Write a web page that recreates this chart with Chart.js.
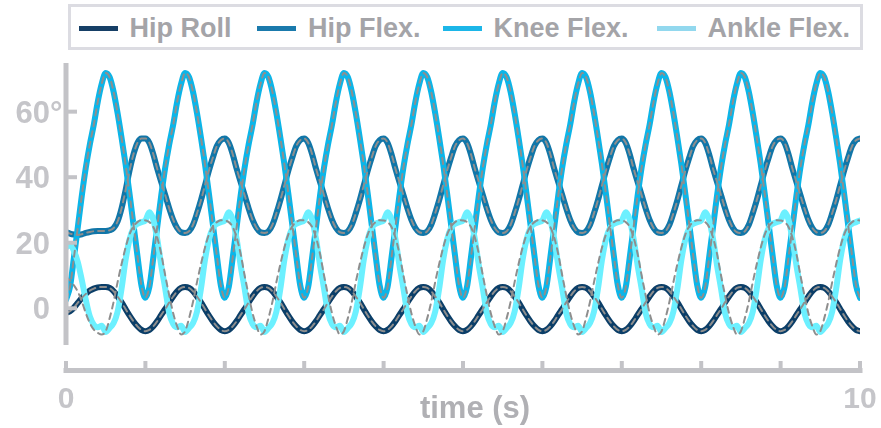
<!DOCTYPE html>
<html>
<head>
<meta charset="utf-8">
<title>Joint angles</title>
<script src="https://cdn.jsdelivr.net/npm/chart.js@4.4.1/dist/chart.umd.min.js"></script>
<style>
  html, body { margin: 0; padding: 0; background: #fff; }
  #wrap {
    position: relative; width: 881px; height: 428px; overflow: hidden;
    font-family: "Liberation Sans", Arial, Helvetica, sans-serif;
  }
  #chart { position: absolute; left: 0; top: 0; }
  #legend {
    position: absolute; left: 68px; top: 4px; width: 795px; height: 46px;
    box-sizing: border-box; border: 3.5px solid #dcdce2; background: #fff;
  }
  .item { position: absolute; top: 1.5px; height: 39px; display: flex; align-items: center; white-space: nowrap; }
  .swatch { display: inline-block; width: 39px; height: 5px; margin-right: 12px; }
  .label { font-weight: bold; font-size: 27px; line-height: 27px; color: #a4a4a8; }
</style>
</head>
<body>
<div id="wrap">
  <canvas id="chart" width="881" height="428"></canvas>
  <div id="legend"></div>
</div>
<script>
// --- data ---
const sampleStep = 0.05;   // s between samples
const duration = 10;       // s
const xTicks = [0, 1, 2, 3, 4, 5, 6, 7, 8, 9, 10];
const xTickLabels = ['0', '', '', '', '', '', '', '', '', '', '10'];
const yTicks = [0, 20, 40, 60];
const yTickLabels = ['0', '20', '40', '60°'];
const seriesNames = ['Hip Roll', 'Hip Flex.', 'Knee Flex.', 'Ankle Flex.'];

// one gait cycle (1 s), samples at k.00, k.05 ... k.95 (degrees)
const hipRollCycle  = [-7.0, -6.6, -5.5, -3.9, -2.0, -0.2, 1.8, 3.6, 5.2, 6.2,
                        6.5, 6.2, 5.2, 3.6, 1.8, -0.2, -2.2, -4.0, -5.5, -6.6];
const hipFlexCycle  = [51.8, 50.5, 47.0, 42.5, 38.5, 34.5, 30.5, 27.0, 24.5, 23.2,
                       23.0, 23.5, 25.5, 29.0, 33.0, 37.5, 42.0, 46.0, 49.5, 51.3];
const kneeFlexCycle = [3.2, 6.5, 15.5, 25.0, 34.5, 43.0, 50.0, 56.0, 63.0, 68.5,
                       71.8, 70.5, 66.0, 59.5, 52.0, 44.0, 35.0, 25.5, 16.0, 7.0];
const ankleFlexCycle = [26.8, 29.3, 27.0, 21.0, 13.0, 6.0, -1.5, -4.8, -5.8, -5.3,
                        -7.2, -6.0, -4.5, -1.0, 6.0, 14.7, 21.0, 24.5, 25.8, 26.3];
// dashed reference for the ankle (the other references sit on their traces)
const ankleRefCycle = [26.8, 26.3, 24.8, 21.5, 16.5, 10.0, 4.0, -1.5, -5.5, -8.0,
                       -7.0, -3.0, 2.0, 8.0, 13.5, 18.5, 22.5, 25.0, 26.3, 26.9];

// start-up samples from t = 0 before the trace settles into the cycle
const hipRollStart  = [-1.4, -0.9, 0.2, 1.7, 3.2, 4.4, 5.4, 6.0, 6.4, 6.5, 6.5];
const hipFlexStart  = [23.3, 22.8, 22.5, 22.4, 22.6, 23.0, 23.3, 23.5, 23.6, 23.6,
                       23.6, 23.8, 24.5, 26.5, 30.5, 36.0, 42.0, 47.0, 50.5, 51.8];
const kneeFlexStart = [2.6];
const ankleFlexStart = [18.5, 19.3, 17.5, 14.0, 8.5, 2.5, -2.5, -5.0];
const ankleRefStart  = [9.6, 8.5, 7.0, 5.0, 2.0, -1.5, -4.5, -6.5, -7.5, -8.0];

// --- styles ---
const lineColors   = ['#0b3e68', '#1176a8', '#0cb5e8', '#6cf0ff'];
const legendColors = ['#163f66', '#1a7aac', '#1cb6e8', '#92d8ee'];
const refColor = '#8e8e8e';
const axisGray = '#c3c3c7';
const tickTextGray = '#c5c5c9';
const titleGray = '#b0b0b4';
const fontFamily = '"Liberation Sans", Arial, Helvetica, sans-serif';

function buildTrace(start, cycle) {
    const n = Math.round(duration / sampleStep);
    const pts = [];
    for (let i = 0; i <= n; i++) {
        const y = i < start.length ? start[i] : cycle[i % cycle.length];
        pts.push({ x: +(i * sampleStep).toFixed(2), y: y });
    }
    return pts;
}

const traces = [
    buildTrace(hipRollStart, hipRollCycle),
    buildTrace(hipFlexStart, hipFlexCycle),
    buildTrace(kneeFlexStart, kneeFlexCycle),
    buildTrace(ankleFlexStart, ankleFlexCycle)
];
const references = [traces[0], traces[1], traces[2], buildTrace(ankleRefStart, ankleRefCycle)];

const datasets = [];
seriesNames.forEach((name, i) => {
    datasets.push({
        label: name,
        data: traces[i],
        borderColor: lineColors[i],
        borderWidth: 6,
        order: 5 - i
    });
});
references.forEach((ref, i) => {
    datasets.push({
        label: seriesNames[i] + ' ref',
        data: ref,
        borderColor: refColor,
        borderWidth: 2,
        borderDash: [6, 5],
        order: 0
    });
});

// axes are drawn detached from the plot area, like the original figure
const detachedAxes = {
    id: 'detachedAxes',
    afterDraw(chart) {
        const { ctx, scales: { x, y } } = chart;
        const x0 = x.getPixelForValue(xTicks[0]);
        const x1 = x.getPixelForValue(xTicks[xTicks.length - 1]);
        const axisY = y.bottom + 25.5;
        ctx.save();
        ctx.strokeStyle = axisGray;
        ctx.lineCap = 'butt';

        // y spine + ticks
        ctx.lineWidth = 5;
        ctx.beginPath();
        ctx.moveTo(x0, y.top);
        ctx.lineTo(x0, y.bottom);
        ctx.stroke();
        ctx.lineWidth = 4;
        yTicks.forEach(v => {
            const py = y.getPixelForValue(v);
            ctx.beginPath();
            ctx.moveTo(x0, py);
            ctx.lineTo(x0 + 11, py);
            ctx.stroke();
        });

        // x spine + ticks
        ctx.lineWidth = 5;
        ctx.beginPath();
        ctx.moveTo(x0 - 2.5, axisY);
        ctx.lineTo(x1 + 2.5, axisY);
        ctx.stroke();
        ctx.lineWidth = 4;
        xTicks.forEach(v => {
            const px = x.getPixelForValue(v);
            ctx.beginPath();
            ctx.moveTo(px, axisY);
            ctx.lineTo(px, axisY - 9.5);
            ctx.stroke();
        });

        // tick labels
        ctx.fillStyle = tickTextGray;
        ctx.font = 'bold 31px ' + fontFamily;
        ctx.textBaseline = 'alphabetic';
        yTickLabels.forEach((lab, i) => {
            const py = y.getPixelForValue(yTicks[i]) + 11;
            const deg = lab.endsWith('°');
            const num = deg ? lab.slice(0, -1) : lab;
            ctx.textAlign = 'right';
            ctx.fillText(num, 50, py);
            if (deg) {
                ctx.textAlign = 'left';
                ctx.fillText('°', 50, py);
            }
        });
        ctx.font = 'bold 30px ' + fontFamily;
        ctx.textAlign = 'center';
        xTickLabels.forEach((lab, i) => {
            if (lab) ctx.fillText(lab, x.getPixelForValue(xTicks[i]), 408);
        });

        // axis title
        ctx.fillStyle = titleGray;
        ctx.font = 'bold 31px ' + fontFamily;
        ctx.fillText('time (s)', 475, 418);
        ctx.restore();
    }
};

function initChart() {
    const ctx = document.getElementById('chart');
    new Chart(ctx, {
        type: 'line',
        data: { datasets: datasets },
        options: {
            responsive: false,
            devicePixelRatio: 1,
            animation: false,
            layout: { padding: { left: 66, right: 21, top: 63, bottom: 83 } },
            elements: {
                point: { radius: 0, hoverRadius: 0 },
                line: { cubicInterpolationMode: 'monotone', borderCapStyle: 'round', borderJoinStyle: 'round' }
            },
            scales: {
                x: { type: 'linear', min: 0, max: duration, display: false },
                y: { min: -11.2, max: 74.85, display: false }
            },
            plugins: {
                legend: { display: false },
                tooltip: { enabled: false }
            }
        },
        plugins: [detachedAxes]
    });

    // legend in HTML, inside a grey frame
    const legendEl = document.getElementById('legend');
    const itemLeft = [7.5, 186, 371.5, 585.5];
    seriesNames.forEach((name, i) => {
        const item = document.createElement('div');
        item.className = 'item';
        item.style.left = itemLeft[i] + 'px';
        const sw = document.createElement('span');
        sw.className = 'swatch';
        sw.style.background = legendColors[i];
        const tx = document.createElement('span');
        tx.className = 'label';
        tx.textContent = name;
        item.appendChild(sw);
        item.appendChild(tx);
        legendEl.appendChild(item);
    });
}

if (document.readyState === 'loading') {
    document.addEventListener('DOMContentLoaded', initChart);
} else {
    initChart();
}
</script>
</body>
</html>
